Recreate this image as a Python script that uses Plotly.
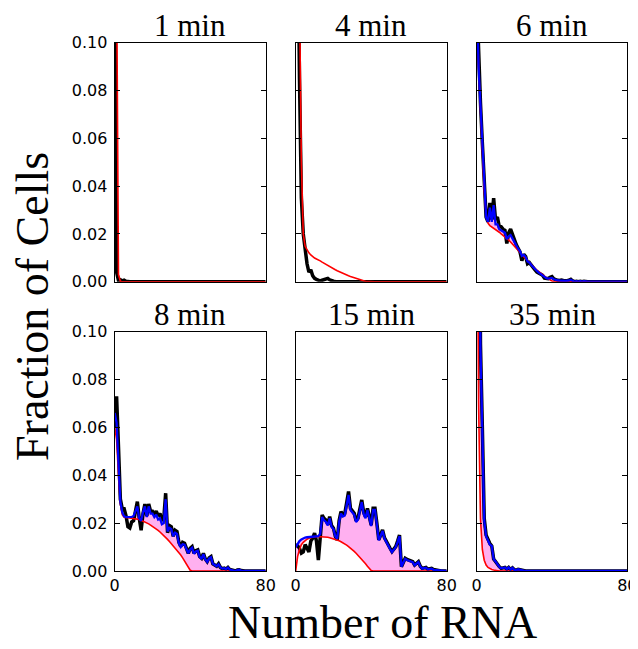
import plotly.graph_objects as go

# the page body has an 8px margin, so the figure is drawn 8px in from the window corner
OFF = 8
WIN_W, WIN_H = 638, 649
W, H = WIN_W - OFF, WIN_H - OFF

# ---------------- data ----------------
RNA = list(range(81))
panel_titles = ["1 min", "4 min", "6 min", "8 min", "15 min", "35 min"]
y_ticks = [0.0, 0.02, 0.04, 0.06, 0.08, 0.10]
y_tick_labels = ["0.00", "0.02", "0.04", "0.06", "0.08", "0.10"]
x_ticks = [0, 80]
x_tick_labels = ["0", "80"]

black_1min = [0.15, 0.004, 0.0005, 0.0008, 0.0003, 0.0006, 0.0002, 0, 0, 0,
              0, 0, 0, 0, 0, 0, 0, 0, 0, 0,
              0, 0, 0, 0, 0, 0, 0, 0, 0, 0,
              0, 0, 0, 0, 0, 0, 0, 0, 0, 0,
              0, 0, 0, 0, 0, 0, 0, 0, 0, 0,
              0, 0, 0, 0, 0, 0, 0, 0, 0, 0,
              0, 0, 0, 0, 0, 0, 0, 0, 0, 0,
              0, 0, 0, 0, 0, 0, 0, 0, 0, 0,
              0]
red_1min = [0.9, 0.13, 0.003, 0.0002, 0, 0, 0, 0, 0, 0,
            0, 0, 0, 0, 0, 0, 0, 0, 0, 0,
            0, 0, 0, 0, 0, 0, 0, 0, 0, 0,
            0, 0, 0, 0, 0, 0, 0, 0, 0, 0,
            0, 0, 0, 0, 0, 0, 0, 0, 0, 0,
            0, 0, 0, 0, 0, 0, 0, 0, 0, 0,
            0, 0, 0, 0, 0, 0, 0, 0, 0, 0,
            0, 0, 0, 0, 0, 0, 0, 0, 0, 0,
            0]

black_4min = [0.6, 0.16, 0.085, 0.035, 0.02, 0.013, 0.0075, 0.004, 0.005, 0.0025,
              0.0014, 0.001, 0.0006, 0.0003, 0.0006, 0.001, 0.0013, 0.0014, 0.0008, 0.0004,
              0.0002, 0.0001, 0, 0, 0, 0, 0, 0, 0, 0,
              0, 0, 0, 0, 0, 0, 0, 0, 0, 0,
              0, 0, 0, 0, 0, 0, 0, 0, 0, 0,
              0, 0, 0, 0, 0, 0, 0, 0, 0, 0,
              0, 0, 0, 0, 0, 0, 0, 0, 0, 0,
              0, 0, 0, 0, 0, 0, 0, 0, 0, 0,
              0]
red_4min = [0.6, 0.3, 0.12, 0.05, 0.02, 0.0148, 0.0132, 0.0121, 0.0112, 0.0104,
            0.0099, 0.0095, 0.0092, 0.0087, 0.0082, 0.0077, 0.0072, 0.0068, 0.0063, 0.0059,
            0.0055, 0.005, 0.0046, 0.0042, 0.0038, 0.0035, 0.0031, 0.0028, 0.0025, 0.0022,
            0.0019, 0.0016, 0.0014, 0.0011, 0.0008, 0.0006, 0.0004, 0.0002, 0.0001, 0,
            0, 0, 0, 0, 0, 0, 0, 0, 0, 0,
            0, 0, 0, 0, 0, 0, 0, 0, 0, 0,
            0, 0, 0, 0, 0, 0, 0, 0, 0, 0,
            0, 0, 0, 0, 0, 0, 0, 0, 0, 0,
            0]

black_6min = [0.12, 0.092, 0.075, 0.058, 0.04, 0.027, 0.025, 0.033, 0.026, 0.035,
              0.026, 0.027, 0.023, 0.023, 0.022, 0.0215, 0.016, 0.0205, 0.022, 0.0195,
              0.0175, 0.0155, 0.014, 0.0125, 0.0088, 0.0115, 0.0105, 0.0075, 0.008, 0.0068,
              0.0058, 0.0049, 0.004, 0.0035, 0.003, 0.0027, 0.0015, 0.0014, 0.0013, 0.0018,
              0.0021, 0.0012, 0.0007, 0.0006, 0.0005, 0.0007, 0.0005, 0.0003, 0.0004, 0.0006,
              0.001, 0.0003, 0, 0.0002, 0, 0.0002, 0, 0.0002, 0, 0,
              0, 0, 0, 0, 0, 0, 0, 0, 0, 0,
              0, 0, 0, 0, 0, 0, 0, 0, 0, 0,
              0]
blue_6min = [0.12, 0.09, 0.074, 0.057, 0.04, 0.027, 0.025, 0.031, 0.025, 0.032,
             0.024, 0.024, 0.022, 0.0215, 0.021, 0.0205, 0.0178, 0.019, 0.0195, 0.018,
             0.0165, 0.015, 0.0138, 0.0128, 0.0108, 0.0112, 0.0103, 0.0085, 0.008, 0.007,
             0.006, 0.0052, 0.0045, 0.0038, 0.0032, 0.0027, 0.0018, 0.0015, 0.0013, 0.0015,
             0.0016, 0.001, 0.0007, 0.0006, 0.0005, 0.0006, 0.0004, 0.0003, 0.0003, 0.0005,
             0.0008, 0.0003, 0, 0.0002, 0, 0.0002, 0, 0.0002, 0, 0,
             0, 0, 0, 0, 0, 0, 0, 0, 0, 0,
             0, 0, 0, 0, 0, 0, 0, 0, 0, 0,
             0]
red_6min = [0.12, 0.09, 0.072, 0.055, 0.038, 0.028, 0.0245, 0.0235, 0.023, 0.0224,
            0.0219, 0.0213, 0.0207, 0.02, 0.0194, 0.0187, 0.018, 0.0174, 0.0166, 0.0158,
            0.015, 0.0142, 0.0133, 0.0124, 0.0114, 0.0105, 0.0096, 0.0087, 0.0078, 0.007,
            0.0062, 0.0055, 0.0048, 0.0041, 0.0035, 0.0029, 0.0023, 0.0017, 0.0012, 0.0007,
            0.0003, 0.0001, 0, 0, 0, 0, 0, 0, 0, 0,
            0, 0, 0, 0, 0, 0, 0, 0, 0, 0,
            0, 0, 0, 0, 0, 0, 0, 0, 0, 0,
            0, 0, 0, 0, 0, 0, 0, 0, 0, 0,
            0]

black_8min = [0.06, 0.073, 0.052, 0.03, 0.026, 0.026, 0.023, 0.0185, 0.018, 0.0205,
              0.021, 0.025, 0.029, 0.022, 0.017, 0.024, 0.028, 0.023, 0.028, 0.025,
              0.025, 0.0235, 0.025, 0.023, 0.024, 0.021, 0.022, 0.0325, 0.016, 0.019,
              0.0185, 0.0145, 0.017, 0.0165, 0.012, 0.0102, 0.012, 0.0116, 0.009, 0.0074,
              0.0095, 0.0102, 0.0074, 0.0085, 0.0088, 0.006, 0.0053, 0.0074, 0.005, 0.0039,
              0.0055, 0.006, 0.003, 0.0025, 0.002, 0.003, 0.0015, 0.001, 0.0012, 0.0008,
              0.0015, 0.0006, 0.0005, 0.0002, 0, 0.0004, 0.0005, 0.0002, 0, 0,
              0, 0, 0, 0, 0, 0, 0, 0, 0, 0,
              0]
blue_8min = [0.066, 0.062, 0.045, 0.029, 0.0245, 0.0228, 0.0225, 0.0225, 0.0225, 0.0226,
             0.023, 0.0255, 0.027, 0.022, 0.021, 0.0245, 0.027, 0.0225, 0.027, 0.024,
             0.024, 0.0225, 0.0235, 0.0215, 0.022, 0.0195, 0.02, 0.03, 0.0165, 0.018,
             0.0175, 0.0145, 0.016, 0.0155, 0.0115, 0.01, 0.0112, 0.011, 0.0088, 0.0074,
             0.009, 0.0097, 0.0072, 0.0082, 0.0085, 0.0058, 0.0052, 0.007, 0.0048, 0.0038,
             0.0052, 0.0057, 0.003, 0.0025, 0.002, 0.0028, 0.0015, 0.001, 0.0012, 0.0008,
             0.0014, 0.0006, 0.0005, 0.0002, 0, 0.0004, 0.0005, 0.0002, 0, 0,
             0, 0, 0, 0, 0, 0, 0, 0, 0, 0,
             0]
red_8min = [0.06, 0.055, 0.04, 0.028, 0.0235, 0.0225, 0.0224, 0.0223, 0.0222, 0.0221,
            0.022, 0.0219, 0.0217, 0.0215, 0.0212, 0.0209, 0.0205, 0.0201, 0.0197, 0.0192,
            0.0187, 0.0182, 0.0176, 0.017, 0.0163, 0.0156, 0.0149, 0.0141, 0.0132, 0.0123,
            0.0114, 0.0104, 0.0096, 0.0088, 0.0078, 0.0067, 0.0055, 0.0042, 0.0028, 0.0013,
            0.0003, 0, 0, 0, 0, 0, 0, 0, 0, 0,
            0, 0, 0, 0, 0, 0, 0, 0, 0, 0,
            0, 0, 0, 0, 0, 0, 0, 0, 0, 0,
            0, 0, 0, 0, 0, 0, 0, 0, 0, 0,
            0]

black_15min = [0.011, 0.0105, 0.0095, 0.0075, 0.008, 0.011, 0.0095, 0.008, 0.0125, 0.0137,
               0.0158, 0.0125, 0.0046, 0.015, 0.0234, 0.022, 0.0213, 0.0195, 0.0227, 0.019,
               0.0179, 0.0145, 0.013, 0.021, 0.0248, 0.0234, 0.024, 0.0285, 0.0332, 0.0262,
               0.025, 0.0241, 0.021, 0.022, 0.026, 0.0297, 0.0245, 0.0227, 0.0262, 0.023,
               0.0192, 0.0262, 0.0262, 0.02, 0.013, 0.015, 0.0172, 0.014, 0.0123, 0.0105,
               0.0095, 0.0081, 0.009, 0.0102, 0.0125, 0.015, 0.0018, 0.0035, 0.0053, 0.0048,
               0.0046, 0.0042, 0.0039, 0.0025, 0.003, 0.0039, 0.002, 0.0011, 0.0013, 0.0015,
               0.0007, 0.001, 0.0011, 0.0006, 0.0004, 0.0002, 0, 0, 0, 0,
               0]
blue_15min = [0.010, 0.0115, 0.0125, 0.0132, 0.0137, 0.014, 0.0141, 0.0142, 0.0143, 0.0144,
              0.0145, 0.0146, 0.0146, 0.0155, 0.0225, 0.0212, 0.0205, 0.019, 0.022, 0.0185,
              0.0175, 0.0145, 0.0135, 0.0205, 0.024, 0.0228, 0.0232, 0.0275, 0.0318, 0.0255,
              0.0243, 0.0235, 0.0205, 0.0215, 0.0252, 0.0288, 0.0238, 0.022, 0.0255, 0.0222,
              0.0188, 0.0255, 0.0255, 0.0195, 0.0128, 0.0147, 0.0168, 0.0137, 0.012, 0.0102,
              0.0092, 0.0079, 0.0088, 0.01, 0.0122, 0.0146, 0.0018, 0.0034, 0.0051, 0.0046,
              0.0044, 0.004, 0.0037, 0.0024, 0.0029, 0.0037, 0.0019, 0.001, 0.0012, 0.0014,
              0.0007, 0.0009, 0.001, 0.0005, 0.0004, 0.0002, 0, 0, 0, 0,
              0]
red_15min = [0, 0.006, 0.009, 0.011, 0.012, 0.0128, 0.0133, 0.0137, 0.014, 0.0142,
             0.0143, 0.0144, 0.0144, 0.0144, 0.0144, 0.0143, 0.0142, 0.0141, 0.0139, 0.0137,
             0.0135, 0.0132, 0.0129, 0.0126, 0.0122, 0.0118, 0.0113, 0.0108, 0.0102, 0.0096,
             0.0089, 0.0082, 0.0074, 0.0066, 0.0058, 0.0049, 0.004, 0.003, 0.002, 0.001,
             0.0002, 0, 0, 0, 0, 0, 0, 0, 0, 0,
             0, 0, 0, 0, 0, 0, 0, 0, 0, 0,
             0, 0, 0, 0, 0, 0, 0, 0, 0, 0,
             0, 0, 0, 0, 0, 0, 0, 0, 0, 0,
             0]

black_35min = [0.35, 0.2, 0.095, 0.06, 0.022, 0.015, 0.013, 0.0115, 0.0105, 0.005,
               0.004, 0.0028, 0.0018, 0.0011, 0.0012, 0.0015, 0.0008, 0.0015, 0.0006, 0.0013,
               0.0005, 0.0004, 0.0007, 0.0005, 0.0002, 0, 0, 0, 0, 0,
               0, 0, 0, 0, 0, 0, 0, 0, 0, 0,
               0, 0, 0, 0, 0, 0, 0, 0, 0, 0,
               0, 0, 0, 0, 0, 0, 0, 0, 0, 0,
               0, 0, 0, 0, 0, 0, 0, 0, 0, 0,
               0, 0, 0, 0, 0, 0, 0, 0, 0, 0,
               0]
blue_35min = [0.33, 0.19, 0.093, 0.058, 0.021, 0.0145, 0.0128, 0.011, 0.0105, 0.005,
              0.004, 0.0027, 0.0017, 0.0011, 0.0012, 0.0015, 0.0008, 0.0015, 0.0006, 0.0013,
              0.0005, 0.0004, 0.0007, 0.0005, 0.0002, 0, 0, 0, 0, 0,
              0, 0, 0, 0, 0, 0, 0, 0, 0, 0,
              0, 0, 0, 0, 0, 0, 0, 0, 0, 0,
              0, 0, 0, 0, 0, 0, 0, 0, 0, 0,
              0, 0, 0, 0, 0, 0, 0, 0, 0, 0,
              0, 0, 0, 0, 0, 0, 0, 0, 0, 0,
              0]
red_35min = [0.2, 0.07, 0.022, 0.009, 0.0045, 0.0025, 0.0015, 0.001, 0.0006, 0.0004,
             0.0002, 0, 0, 0, 0, 0, 0, 0, 0, 0,
             0, 0, 0, 0, 0, 0, 0, 0, 0, 0,
             0, 0, 0, 0, 0, 0, 0, 0, 0, 0,
             0, 0, 0, 0, 0, 0, 0, 0, 0, 0,
             0, 0, 0, 0, 0, 0, 0, 0, 0, 0,
             0, 0, 0, 0, 0, 0, 0, 0, 0, 0,
             0, 0, 0, 0, 0, 0, 0, 0, 0, 0,
             0]

panels = [
    (black_1min, None, red_1min),
    (black_4min, None, red_4min),
    (black_6min, blue_6min, red_6min),
    (black_8min, blue_8min, red_8min),
    (black_15min, blue_15min, red_15min),
    (black_35min, blue_35min, red_35min),
]

# ---------------- layout geometry (window pixels) ----------------
col_px = [(114.7, 265.7), (295.7, 446.7), (476.7, 627.3)]
row_px = [(42.7, 281.7), (331.7, 571.0)]

def px_x(p):
    return (p - OFF) / W

def px_y(p):
    return 1 - (p - OFF) / H

BLACK = "#000000"
BLUE = "#0000ff"
RED = "#ff0000"
PINK = "rgb(255,176,240)"
SERIF = "Liberation Serif, Times New Roman, serif"
SANS = "DejaVu Sans, sans-serif"

fig = go.Figure()
layout = dict(
    width=W, height=H, autosize=False,
    margin=dict(l=0, r=0, t=0, b=0, pad=0),
    paper_bgcolor="white", plot_bgcolor="white",
    showlegend=False,
    font=dict(family=SANS, size=16, color="black"),
)
annotations = []

for i, (blk, blu, red) in enumerate(panels):
    r, c = divmod(i, 3)
    k = i + 1
    xa = "x" if k == 1 else f"x{k}"
    ya = "y" if k == 1 else f"y{k}"
    # fill between red and blue
    if blu is not None:
        fig.add_trace(go.Scatter(x=RNA, y=red, mode="lines", line=dict(width=0, color=RED),
                                 xaxis=xa, yaxis=ya, hoverinfo="skip"))
        fig.add_trace(go.Scatter(x=RNA, y=blu, mode="lines", line=dict(width=0, color=BLUE),
                                 fill="tonexty", fillcolor=PINK,
                                 xaxis=xa, yaxis=ya, hoverinfo="skip"))
    fig.add_trace(go.Scatter(x=RNA, y=blk, mode="lines", line=dict(width=3.5, color=BLACK),
                             xaxis=xa, yaxis=ya))
    fig.add_trace(go.Scatter(x=RNA, y=red, mode="lines", line=dict(width=1.6, color=RED),
                             xaxis=xa, yaxis=ya))
    if blu is not None:
        fig.add_trace(go.Scatter(x=RNA, y=blu, mode="lines", line=dict(width=2.3, color=BLUE),
                                 xaxis=xa, yaxis=ya))

    x0, x1 = col_px[c]
    y0, y1 = row_px[r]
    xkey = "xaxis" if k == 1 else f"xaxis{k}"
    ykey = "yaxis" if k == 1 else f"yaxis{k}"
    layout[xkey] = dict(
        domain=[px_x(x0), px_x(x1)], anchor=ya, range=[0, 80],
        tickvals=x_ticks, ticktext=x_tick_labels, showticklabels=(r == 1),
        ticks="inside", ticklen=5, tickwidth=1, tickcolor="black",
        showline=True, linecolor="black", linewidth=1.2, mirror="ticks",
        showgrid=False, zeroline=False, automargin=False,
        tickfont=dict(family=SANS, size=16, color="black"),
    )
    layout[ykey] = dict(
        domain=[px_y(y1), px_y(y0)], anchor=xa, range=[0, 0.1],
        tickvals=y_ticks, ticktext=y_tick_labels, showticklabels=(c == 0),
        ticks="inside", ticklen=5, tickwidth=1, tickcolor="black",
        showline=True, linecolor="black", linewidth=1.2, mirror="ticks",
        showgrid=False, zeroline=False, automargin=False,
        ticklabelstandoff=3,
        tickfont=dict(family=SANS, size=16, color="black"),
    )
    annotations.append(dict(
        text=panel_titles[i], xref="paper", yref="paper",
        x=px_x((x0 + x1) / 2), y=px_y(y0 - 17.5), xanchor="center", yanchor="middle",
        showarrow=False, borderpad=0, font=dict(family=SERIF, size=31, color="black"),
    ))

annotations.append(dict(
    text="Fraction of Cells", xref="paper", yref="paper",
    x=px_x(32), y=px_y(307), xanchor="center", yanchor="middle", textangle=-90,
    showarrow=False, font=dict(family=SERIF, size=46, color="black"),
))
annotations.append(dict(
    text="Number of RNA", xref="paper", yref="paper",
    x=px_x(382), y=px_y(622), xanchor="center", yanchor="middle",
    showarrow=False, font=dict(family=SERIF, size=46, color="black"),
))
layout["annotations"] = annotations
fig.update_layout(**layout)
fig.write_html("out.html")
